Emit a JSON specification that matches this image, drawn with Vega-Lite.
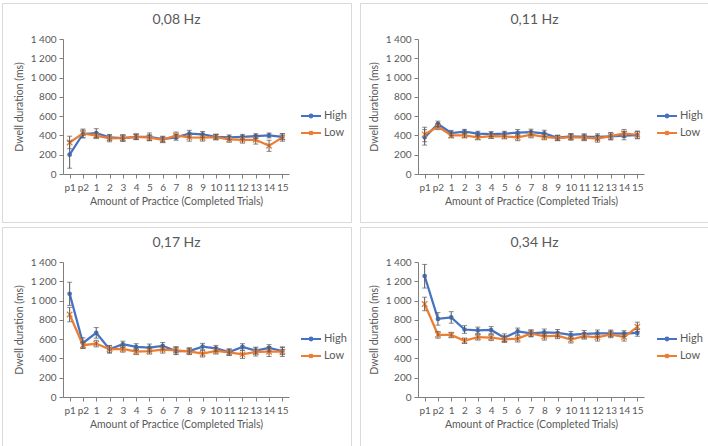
{
  "$schema": "https://vega.github.io/schema/vega-lite/v6.json",
  "padding": {"left": 1, "top": 2, "right": 0, "bottom": 0},
  "background": "white",
  "config": {
    "font": "Lato",
    "view": {"stroke": "#d9d9d9", "strokeWidth": 1},
    "axis": {"labelColor": "#595959", "titleColor": "#595959", "domain": true, "ticks": true, "domainColor": "#7f7f7f", "tickColor": "#7f7f7f", "domainWidth": 1, "tickWidth": 1, "grid": false, "labelFontSize": 10, "titleFontSize": 10.5, "titleFontWeight": "normal", "tickSize": 4},
    "title": {"fontSize": 14, "fontWeight": "normal", "color": "#595959", "anchor": "middle", "frame": "group"},
    "legend": {"labelColor": "#595959", "labelFontSize": 11, "symbolType": "stroke", "symbolStrokeWidth": 2, "symbolSize": 400, "rowPadding": 0, "labelOffset": 2}
  },
  "data": {"values": [
    {"f":"0,08 Hz","t":"p1","g":"High","m":200,"lo":60,"hi":340},
    {"f":"0,08 Hz","t":"p2","g":"High","m":415,"lo":375,"hi":455},
    {"f":"0,08 Hz","t":"1","g":"High","m":425,"lo":380,"hi":470},
    {"f":"0,08 Hz","t":"2","g":"High","m":380,"lo":350,"hi":410},
    {"f":"0,08 Hz","t":"3","g":"High","m":373,"lo":343,"hi":403},
    {"f":"0,08 Hz","t":"4","g":"High","m":386,"lo":358,"hi":414},
    {"f":"0,08 Hz","t":"5","g":"High","m":386,"lo":346,"hi":426},
    {"f":"0,08 Hz","t":"6","g":"High","m":362,"lo":332,"hi":392},
    {"f":"0,08 Hz","t":"7","g":"High","m":380,"lo":350,"hi":410},
    {"f":"0,08 Hz","t":"8","g":"High","m":418,"lo":383,"hi":453},
    {"f":"0,08 Hz","t":"9","g":"High","m":411,"lo":381,"hi":441},
    {"f":"0,08 Hz","t":"10","g":"High","m":386,"lo":361,"hi":411},
    {"f":"0,08 Hz","t":"11","g":"High","m":380,"lo":355,"hi":405},
    {"f":"0,08 Hz","t":"12","g":"High","m":386,"lo":361,"hi":411},
    {"f":"0,08 Hz","t":"13","g":"High","m":393,"lo":368,"hi":418},
    {"f":"0,08 Hz","t":"14","g":"High","m":400,"lo":375,"hi":425},
    {"f":"0,08 Hz","t":"15","g":"High","m":386,"lo":356,"hi":416},
    {"f":"0,08 Hz","t":"p1","g":"Low","m":327,"lo":262,"hi":392},
    {"f":"0,08 Hz","t":"p2","g":"Low","m":421,"lo":376,"hi":466},
    {"f":"0,08 Hz","t":"1","g":"Low","m":397,"lo":367,"hi":427},
    {"f":"0,08 Hz","t":"2","g":"Low","m":369,"lo":334,"hi":404},
    {"f":"0,08 Hz","t":"3","g":"Low","m":373,"lo":338,"hi":408},
    {"f":"0,08 Hz","t":"4","g":"Low","m":386,"lo":356,"hi":416},
    {"f":"0,08 Hz","t":"5","g":"Low","m":376,"lo":346,"hi":406},
    {"f":"0,08 Hz","t":"6","g":"Low","m":355,"lo":325,"hi":385},
    {"f":"0,08 Hz","t":"7","g":"Low","m":400,"lo":365,"hi":435},
    {"f":"0,08 Hz","t":"8","g":"Low","m":380,"lo":340,"hi":420},
    {"f":"0,08 Hz","t":"9","g":"Low","m":376,"lo":341,"hi":411},
    {"f":"0,08 Hz","t":"10","g":"Low","m":383,"lo":353,"hi":413},
    {"f":"0,08 Hz","t":"11","g":"Low","m":359,"lo":329,"hi":389},
    {"f":"0,08 Hz","t":"12","g":"Low","m":355,"lo":320,"hi":390},
    {"f":"0,08 Hz","t":"13","g":"Low","m":355,"lo":310,"hi":400},
    {"f":"0,08 Hz","t":"14","g":"Low","m":292,"lo":235,"hi":350},
    {"f":"0,08 Hz","t":"15","g":"Low","m":380,"lo":340,"hi":420},
    {"f":"0,11 Hz","t":"p1","g":"High","m":380,"lo":300,"hi":460},
    {"f":"0,11 Hz","t":"p2","g":"High","m":519,"lo":490,"hi":548},
    {"f":"0,11 Hz","t":"1","g":"High","m":425,"lo":398,"hi":452},
    {"f":"0,11 Hz","t":"2","g":"High","m":439,"lo":415,"hi":463},
    {"f":"0,11 Hz","t":"3","g":"High","m":418,"lo":393,"hi":443},
    {"f":"0,11 Hz","t":"4","g":"High","m":414,"lo":388,"hi":440},
    {"f":"0,11 Hz","t":"5","g":"High","m":418,"lo":393,"hi":443},
    {"f":"0,11 Hz","t":"6","g":"High","m":428,"lo":395,"hi":461},
    {"f":"0,11 Hz","t":"7","g":"High","m":435,"lo":405,"hi":465},
    {"f":"0,11 Hz","t":"8","g":"High","m":421,"lo":388,"hi":454},
    {"f":"0,11 Hz","t":"9","g":"High","m":376,"lo":350,"hi":402},
    {"f":"0,11 Hz","t":"10","g":"High","m":390,"lo":360,"hi":420},
    {"f":"0,11 Hz","t":"11","g":"High","m":386,"lo":355,"hi":417},
    {"f":"0,11 Hz","t":"12","g":"High","m":386,"lo":355,"hi":417},
    {"f":"0,11 Hz","t":"13","g":"High","m":390,"lo":355,"hi":425},
    {"f":"0,11 Hz","t":"14","g":"High","m":397,"lo":355,"hi":439},
    {"f":"0,11 Hz","t":"15","g":"High","m":404,"lo":365,"hi":443},
    {"f":"0,11 Hz","t":"p1","g":"Low","m":411,"lo":335,"hi":485},
    {"f":"0,11 Hz","t":"p2","g":"Low","m":491,"lo":460,"hi":522},
    {"f":"0,11 Hz","t":"1","g":"Low","m":400,"lo":375,"hi":425},
    {"f":"0,11 Hz","t":"2","g":"Low","m":400,"lo":375,"hi":425},
    {"f":"0,11 Hz","t":"3","g":"Low","m":380,"lo":355,"hi":405},
    {"f":"0,11 Hz","t":"4","g":"Low","m":393,"lo":368,"hi":418},
    {"f":"0,11 Hz","t":"5","g":"Low","m":390,"lo":365,"hi":415},
    {"f":"0,11 Hz","t":"6","g":"Low","m":380,"lo":345,"hi":415},
    {"f":"0,11 Hz","t":"7","g":"Low","m":407,"lo":375,"hi":439},
    {"f":"0,11 Hz","t":"8","g":"Low","m":386,"lo":355,"hi":417},
    {"f":"0,11 Hz","t":"9","g":"Low","m":373,"lo":345,"hi":401},
    {"f":"0,11 Hz","t":"10","g":"Low","m":383,"lo":350,"hi":416},
    {"f":"0,11 Hz","t":"11","g":"Low","m":376,"lo":345,"hi":407},
    {"f":"0,11 Hz","t":"12","g":"Low","m":366,"lo":330,"hi":402},
    {"f":"0,11 Hz","t":"13","g":"Low","m":393,"lo":355,"hi":431},
    {"f":"0,11 Hz","t":"14","g":"Low","m":421,"lo":380,"hi":462},
    {"f":"0,11 Hz","t":"15","g":"Low","m":407,"lo":370,"hi":444},
    {"f":"0,17 Hz","t":"p1","g":"High","m":1070,"lo":950,"hi":1190},
    {"f":"0,17 Hz","t":"p2","g":"High","m":560,"lo":505,"hi":615},
    {"f":"0,17 Hz","t":"1","g":"High","m":665,"lo":610,"hi":720},
    {"f":"0,17 Hz","t":"2","g":"High","m":495,"lo":460,"hi":530},
    {"f":"0,17 Hz","t":"3","g":"High","m":547,"lo":515,"hi":579},
    {"f":"0,17 Hz","t":"4","g":"High","m":519,"lo":485,"hi":553},
    {"f":"0,17 Hz","t":"5","g":"High","m":512,"lo":475,"hi":549},
    {"f":"0,17 Hz","t":"6","g":"High","m":530,"lo":495,"hi":565},
    {"f":"0,17 Hz","t":"7","g":"High","m":477,"lo":440,"hi":514},
    {"f":"0,17 Hz","t":"8","g":"High","m":477,"lo":445,"hi":509},
    {"f":"0,17 Hz","t":"9","g":"High","m":523,"lo":490,"hi":556},
    {"f":"0,17 Hz","t":"10","g":"High","m":505,"lo":475,"hi":535},
    {"f":"0,17 Hz","t":"11","g":"High","m":467,"lo":435,"hi":499},
    {"f":"0,17 Hz","t":"12","g":"High","m":519,"lo":485,"hi":553},
    {"f":"0,17 Hz","t":"13","g":"High","m":481,"lo":445,"hi":517},
    {"f":"0,17 Hz","t":"14","g":"High","m":509,"lo":475,"hi":543},
    {"f":"0,17 Hz","t":"15","g":"High","m":477,"lo":440,"hi":514},
    {"f":"0,17 Hz","t":"p1","g":"Low","m":855,"lo":780,"hi":930},
    {"f":"0,17 Hz","t":"p2","g":"Low","m":537,"lo":505,"hi":569},
    {"f":"0,17 Hz","t":"1","g":"Low","m":554,"lo":520,"hi":588},
    {"f":"0,17 Hz","t":"2","g":"Low","m":495,"lo":455,"hi":535},
    {"f":"0,17 Hz","t":"3","g":"Low","m":498,"lo":465,"hi":531},
    {"f":"0,17 Hz","t":"4","g":"Low","m":470,"lo":440,"hi":500},
    {"f":"0,17 Hz","t":"5","g":"Low","m":477,"lo":445,"hi":509},
    {"f":"0,17 Hz","t":"6","g":"Low","m":491,"lo":455,"hi":527},
    {"f":"0,17 Hz","t":"7","g":"Low","m":484,"lo":445,"hi":523},
    {"f":"0,17 Hz","t":"8","g":"Low","m":474,"lo":440,"hi":508},
    {"f":"0,17 Hz","t":"9","g":"Low","m":449,"lo":415,"hi":483},
    {"f":"0,17 Hz","t":"10","g":"Low","m":477,"lo":445,"hi":509},
    {"f":"0,17 Hz","t":"11","g":"Low","m":463,"lo":430,"hi":496},
    {"f":"0,17 Hz","t":"12","g":"Low","m":442,"lo":400,"hi":484},
    {"f":"0,17 Hz","t":"13","g":"Low","m":467,"lo":425,"hi":509},
    {"f":"0,17 Hz","t":"14","g":"Low","m":470,"lo":420,"hi":520},
    {"f":"0,17 Hz","t":"15","g":"Low","m":470,"lo":420,"hi":520},
    {"f":"0,34 Hz","t":"p1","g":"High","m":1255,"lo":1130,"hi":1375},
    {"f":"0,34 Hz","t":"p2","g":"High","m":810,"lo":745,"hi":875},
    {"f":"0,34 Hz","t":"1","g":"High","m":825,"lo":765,"hi":885},
    {"f":"0,34 Hz","t":"2","g":"High","m":700,"lo":660,"hi":740},
    {"f":"0,34 Hz","t":"3","g":"High","m":690,"lo":655,"hi":725},
    {"f":"0,34 Hz","t":"4","g":"High","m":695,"lo":660,"hi":730},
    {"f":"0,34 Hz","t":"5","g":"High","m":615,"lo":575,"hi":655},
    {"f":"0,34 Hz","t":"6","g":"High","m":680,"lo":645,"hi":715},
    {"f":"0,34 Hz","t":"7","g":"High","m":660,"lo":625,"hi":695},
    {"f":"0,34 Hz","t":"8","g":"High","m":670,"lo":635,"hi":705},
    {"f":"0,34 Hz","t":"9","g":"High","m":665,"lo":630,"hi":700},
    {"f":"0,34 Hz","t":"10","g":"High","m":645,"lo":610,"hi":680},
    {"f":"0,34 Hz","t":"11","g":"High","m":655,"lo":620,"hi":690},
    {"f":"0,34 Hz","t":"12","g":"High","m":660,"lo":625,"hi":695},
    {"f":"0,34 Hz","t":"13","g":"High","m":660,"lo":625,"hi":695},
    {"f":"0,34 Hz","t":"14","g":"High","m":658,"lo":628,"hi":688},
    {"f":"0,34 Hz","t":"15","g":"High","m":665,"lo":630,"hi":700},
    {"f":"0,34 Hz","t":"p1","g":"Low","m":965,"lo":895,"hi":1035},
    {"f":"0,34 Hz","t":"p2","g":"Low","m":645,"lo":610,"hi":680},
    {"f":"0,34 Hz","t":"1","g":"Low","m":643,"lo":615,"hi":671},
    {"f":"0,34 Hz","t":"2","g":"Low","m":583,"lo":555,"hi":611},
    {"f":"0,34 Hz","t":"3","g":"Low","m":622,"lo":590,"hi":654},
    {"f":"0,34 Hz","t":"4","g":"Low","m":617,"lo":585,"hi":649},
    {"f":"0,34 Hz","t":"5","g":"Low","m":598,"lo":565,"hi":631},
    {"f":"0,34 Hz","t":"6","g":"Low","m":605,"lo":570,"hi":640},
    {"f":"0,34 Hz","t":"7","g":"Low","m":660,"lo":625,"hi":695},
    {"f":"0,34 Hz","t":"8","g":"Low","m":628,"lo":590,"hi":666},
    {"f":"0,34 Hz","t":"9","g":"Low","m":637,"lo":605,"hi":669},
    {"f":"0,34 Hz","t":"10","g":"Low","m":595,"lo":560,"hi":630},
    {"f":"0,34 Hz","t":"11","g":"Low","m":630,"lo":600,"hi":660},
    {"f":"0,34 Hz","t":"12","g":"Low","m":618,"lo":580,"hi":656},
    {"f":"0,34 Hz","t":"13","g":"Low","m":650,"lo":615,"hi":685},
    {"f":"0,34 Hz","t":"14","g":"Low","m":622,"lo":580,"hi":664},
    {"f":"0,34 Hz","t":"15","g":"Low","m":728,"lo":680,"hi":776}
  ]},
  "spacing": 3,
  "resolve": {"scale": {"x": "independent", "y": "independent", "color": "independent"}, "legend": {"color": "independent"}},
  "vconcat": [
    {
      "spacing": 7,
      "resolve": {"scale": {"x": "independent", "y": "independent", "color": "independent"}, "legend": {"color": "independent"}},
      "hconcat": [
        {
          "width": 349, "height": 219,
          "title": {"text": "0,08 Hz", "offset": -24},
          "transform": [{"filter": "datum.f === '0,08 Hz'"}],
          "encoding": {
            "x": {"field": "t", "type": "ordinal", "sort": ["p1","p2","1","2","3","4","5","6","7","8","9","10","11","12","13","14","15"], "scale": {"type": "point", "padding": 0.5, "range": [61, 287]}, "axis": {"orient": "bottom", "offset": -48, "domain": true, "ticks": true, "labelAngle": 0, "labelOverlap": false, "labelPadding": 4, "titlePadding": 4, "title": "Amount of Practice (Completed Trials)"}},
            "y": {"field": "m", "type": "quantitative", "scale": {"domain": [0, 1400], "nice": false, "range": [171, 36]}, "axis": {"orient": "left", "offset": -61, "domain": true, "ticks": true, "values": [0,200,400,600,800,1000,1200,1400], "labelExpr": "replace(format(datum.value, ','), ',', ' ')", "labelPadding": 3, "titlePadding": 6, "title": "Dwell duration (ms)"}},
            "color": {"field": "g", "type": "nominal", "scale": {"domain": ["High","Low"], "range": ["#4472C4","#ED7D31"]}, "legend": {"orient": "none", "legendX": 298, "legendY": 102, "title": null, "encode": {"symbols": {"update": {"shape": {"signal": "datum.value === 'High' ? 'M-1,0H1M-0.14,0A0.14,0.14 0 1 1 0.14,0A0.14,0.14 0 1 1 -0.14,0Z' : 'M-1,0H1M-0.17,-0.17L0.17,0.17M-0.17,0.17L0.17,-0.17'"}, "fill": {"signal": "datum.value === 'High' ? '#4472C4' : 'transparent'"}}}}}}
          },
          "layer": [
            {"mark": {"type": "line", "strokeWidth": 2.25}},
            {"transform": [{"filter": "datum.g === 'High'"}], "mark": {"type": "point", "shape": "circle", "filled": true, "size": 22, "opacity": 1}},
            {"transform": [{"filter": "datum.g === 'Low'"}], "mark": {"type": "point", "shape": "M-1,-1L1,1M-1,1L1,-1", "filled": false, "size": 30, "strokeWidth": 1.3, "opacity": 1}},
            {"mark": {"type": "rule", "strokeWidth": 1}, "encoding": {"y": {"field": "lo", "type": "quantitative"}, "y2": {"field": "hi"}, "color": {"value": "#595959"}}},
            {"mark": {"type": "tick", "size": 5, "thickness": 1}, "encoding": {"y": {"field": "lo", "type": "quantitative"}, "color": {"value": "#595959"}}},
            {"mark": {"type": "tick", "size": 5, "thickness": 1}, "encoding": {"y": {"field": "hi", "type": "quantitative"}, "color": {"value": "#595959"}}}
          ]
        },
        {
          "width": 349, "height": 219,
          "title": {"text": "0,11 Hz", "offset": -24},
          "transform": [{"filter": "datum.f === '0,11 Hz'"}],
          "encoding": {
            "x": {"field": "t", "type": "ordinal", "sort": ["p1","p2","1","2","3","4","5","6","7","8","9","10","11","12","13","14","15"], "scale": {"type": "point", "padding": 0.5, "range": [58, 284]}, "axis": {"orient": "bottom", "offset": -48, "domain": true, "ticks": true, "labelAngle": 0, "labelOverlap": false, "labelPadding": 4, "titlePadding": 4, "title": "Amount of Practice (Completed Trials)"}},
            "y": {"field": "m", "type": "quantitative", "scale": {"domain": [0, 1400], "nice": false, "range": [171, 36]}, "axis": {"orient": "left", "offset": -58, "domain": true, "ticks": true, "values": [0,200,400,600,800,1000,1200,1400], "labelExpr": "replace(format(datum.value, ','), ',', ' ')", "labelPadding": 3, "titlePadding": 6, "title": "Dwell duration (ms)"}},
            "color": {"field": "g", "type": "nominal", "scale": {"domain": ["High","Low"], "range": ["#4472C4","#ED7D31"]}, "legend": {"orient": "none", "legendX": 296, "legendY": 102, "title": null, "encode": {"symbols": {"update": {"shape": {"signal": "datum.value === 'High' ? 'M-1,0H1M-0.14,0A0.14,0.14 0 1 1 0.14,0A0.14,0.14 0 1 1 -0.14,0Z' : 'M-1,0H1M-0.17,-0.17L0.17,0.17M-0.17,0.17L0.17,-0.17'"}, "fill": {"signal": "datum.value === 'High' ? '#4472C4' : 'transparent'"}}}}}}
          },
          "layer": [
            {"mark": {"type": "line", "strokeWidth": 2.25}},
            {"transform": [{"filter": "datum.g === 'High'"}], "mark": {"type": "point", "shape": "circle", "filled": true, "size": 22, "opacity": 1}},
            {"transform": [{"filter": "datum.g === 'Low'"}], "mark": {"type": "point", "shape": "M-1,-1L1,1M-1,1L1,-1", "filled": false, "size": 30, "strokeWidth": 1.3, "opacity": 1}},
            {"mark": {"type": "rule", "strokeWidth": 1}, "encoding": {"y": {"field": "lo", "type": "quantitative"}, "y2": {"field": "hi"}, "color": {"value": "#595959"}}},
            {"mark": {"type": "tick", "size": 5, "thickness": 1}, "encoding": {"y": {"field": "lo", "type": "quantitative"}, "color": {"value": "#595959"}}},
            {"mark": {"type": "tick", "size": 5, "thickness": 1}, "encoding": {"y": {"field": "hi", "type": "quantitative"}, "color": {"value": "#595959"}}}
          ]
        }
      ]
    },
    {
      "spacing": 7,
      "resolve": {"scale": {"x": "independent", "y": "independent", "color": "independent"}, "legend": {"color": "independent"}},
      "hconcat": [
        {
          "width": 349, "height": 219,
          "title": {"text": "0,17 Hz", "offset": -23},
          "transform": [{"filter": "datum.f === '0,17 Hz'"}],
          "encoding": {
            "x": {"field": "t", "type": "ordinal", "sort": ["p1","p2","1","2","3","4","5","6","7","8","9","10","11","12","13","14","15"], "scale": {"type": "point", "padding": 0.5, "range": [61, 287]}, "axis": {"orient": "bottom", "offset": -49, "domain": true, "ticks": true, "labelAngle": 0, "labelOverlap": false, "labelPadding": 4, "titlePadding": 4, "title": "Amount of Practice (Completed Trials)"}},
            "y": {"field": "m", "type": "quantitative", "scale": {"domain": [0, 1400], "nice": false, "range": [170, 35]}, "axis": {"orient": "left", "offset": -61, "domain": true, "ticks": true, "values": [0,200,400,600,800,1000,1200,1400], "labelExpr": "replace(format(datum.value, ','), ',', ' ')", "labelPadding": 3, "titlePadding": 6, "title": "Dwell duration (ms)"}},
            "color": {"field": "g", "type": "nominal", "scale": {"domain": ["High","Low"], "range": ["#4472C4","#ED7D31"]}, "legend": {"orient": "none", "legendX": 298, "legendY": 101, "title": null, "encode": {"symbols": {"update": {"shape": {"signal": "datum.value === 'High' ? 'M-1,0H1M-0.14,0A0.14,0.14 0 1 1 0.14,0A0.14,0.14 0 1 1 -0.14,0Z' : 'M-1,0H1M-0.17,-0.17L0.17,0.17M-0.17,0.17L0.17,-0.17'"}, "fill": {"signal": "datum.value === 'High' ? '#4472C4' : 'transparent'"}}}}}}
          },
          "layer": [
            {"mark": {"type": "line", "strokeWidth": 2.25}},
            {"transform": [{"filter": "datum.g === 'High'"}], "mark": {"type": "point", "shape": "circle", "filled": true, "size": 22, "opacity": 1}},
            {"transform": [{"filter": "datum.g === 'Low'"}], "mark": {"type": "point", "shape": "M-1,-1L1,1M-1,1L1,-1", "filled": false, "size": 30, "strokeWidth": 1.3, "opacity": 1}},
            {"mark": {"type": "rule", "strokeWidth": 1}, "encoding": {"y": {"field": "lo", "type": "quantitative"}, "y2": {"field": "hi"}, "color": {"value": "#595959"}}},
            {"mark": {"type": "tick", "size": 5, "thickness": 1}, "encoding": {"y": {"field": "lo", "type": "quantitative"}, "color": {"value": "#595959"}}},
            {"mark": {"type": "tick", "size": 5, "thickness": 1}, "encoding": {"y": {"field": "hi", "type": "quantitative"}, "color": {"value": "#595959"}}}
          ]
        },
        {
          "width": 349, "height": 219,
          "title": {"text": "0,34 Hz", "offset": -23},
          "transform": [{"filter": "datum.f === '0,34 Hz'"}],
          "encoding": {
            "x": {"field": "t", "type": "ordinal", "sort": ["p1","p2","1","2","3","4","5","6","7","8","9","10","11","12","13","14","15"], "scale": {"type": "point", "padding": 0.5, "range": [58, 284]}, "axis": {"orient": "bottom", "offset": -49, "domain": true, "ticks": true, "labelAngle": 0, "labelOverlap": false, "labelPadding": 4, "titlePadding": 4, "title": "Amount of Practice (Completed Trials)"}},
            "y": {"field": "m", "type": "quantitative", "scale": {"domain": [0, 1400], "nice": false, "range": [170, 35]}, "axis": {"orient": "left", "offset": -58, "domain": true, "ticks": true, "values": [0,200,400,600,800,1000,1200,1400], "labelExpr": "replace(format(datum.value, ','), ',', ' ')", "labelPadding": 3, "titlePadding": 6, "title": "Dwell duration (ms)"}},
            "color": {"field": "g", "type": "nominal", "scale": {"domain": ["High","Low"], "range": ["#4472C4","#ED7D31"]}, "legend": {"orient": "none", "legendX": 296, "legendY": 101, "title": null, "encode": {"symbols": {"update": {"shape": {"signal": "datum.value === 'High' ? 'M-1,0H1M-0.14,0A0.14,0.14 0 1 1 0.14,0A0.14,0.14 0 1 1 -0.14,0Z' : 'M-1,0H1M-0.17,-0.17L0.17,0.17M-0.17,0.17L0.17,-0.17'"}, "fill": {"signal": "datum.value === 'High' ? '#4472C4' : 'transparent'"}}}}}}
          },
          "layer": [
            {"mark": {"type": "line", "strokeWidth": 2.25}},
            {"transform": [{"filter": "datum.g === 'High'"}], "mark": {"type": "point", "shape": "circle", "filled": true, "size": 22, "opacity": 1}},
            {"transform": [{"filter": "datum.g === 'Low'"}], "mark": {"type": "point", "shape": "M-1,-1L1,1M-1,1L1,-1", "filled": false, "size": 30, "strokeWidth": 1.3, "opacity": 1}},
            {"mark": {"type": "rule", "strokeWidth": 1}, "encoding": {"y": {"field": "lo", "type": "quantitative"}, "y2": {"field": "hi"}, "color": {"value": "#595959"}}},
            {"mark": {"type": "tick", "size": 5, "thickness": 1}, "encoding": {"y": {"field": "lo", "type": "quantitative"}, "color": {"value": "#595959"}}},
            {"mark": {"type": "tick", "size": 5, "thickness": 1}, "encoding": {"y": {"field": "hi", "type": "quantitative"}, "color": {"value": "#595959"}}}
          ]
        }
      ]
    }
  ]
}
